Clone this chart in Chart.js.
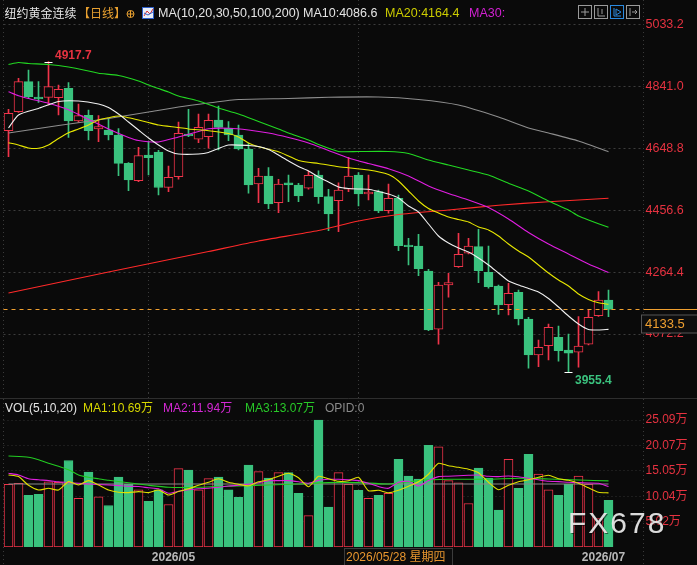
<!DOCTYPE html>
<html><head><meta charset="utf-8">
<script src="https://cdn.jsdelivr.net/npm/chart.js@4.4.1/dist/chart.umd.min.js"></script>
<style>
html,body{margin:0;padding:0;background:#0a0a0a;overflow:hidden}
#wrap{position:relative;width:697px;height:565px;background:#0a0a0a}
#pc{position:absolute;left:0;top:0}
#vc{position:absolute;left:0;top:393px}
</style></head><body>
<div id="wrap">
<canvas id="pc" width="697" height="393"></canvas>
<canvas id="vc" width="697" height="172"></canvas>
</div>
<script>
// ---------------- DATA ----------------
const dates = ['2026/04/09','2026/04/10','2026/04/13','2026/04/14','2026/04/15','2026/04/16','2026/04/17','2026/04/20','2026/04/21','2026/04/22','2026/04/23','2026/04/24','2026/04/27','2026/04/28','2026/04/29','2026/04/30',
'2026/05/01','2026/05/04','2026/05/05','2026/05/06','2026/05/07','2026/05/08','2026/05/11','2026/05/12','2026/05/13','2026/05/14','2026/05/15','2026/05/18','2026/05/19','2026/05/20','2026/05/21','2026/05/22','2026/05/25','2026/05/26','2026/05/27','2026/05/28','2026/05/29',
'2026/06/01','2026/06/02','2026/06/03','2026/06/04','2026/06/05','2026/06/08','2026/06/09','2026/06/10','2026/06/11','2026/06/12','2026/06/15','2026/06/16','2026/06/17','2026/06/18','2026/06/19','2026/06/22','2026/06/23','2026/06/24','2026/06/25','2026/06/26','2026/06/29','2026/06/30',
'2026/07/01','2026/07/02'];
const emptySlots = ['', '', ''];

const opens  = [4703.1,4762.0,4855.1,4807.6,4806.7,4805.5,4834.6,4733.2,4750.9,4708.3,4705.3,4689.7,4601.9,4547.9,4627.7,4637.0,4527.4,4560.3,4692.8,4676.4,4684.5,4736.3,4711.4,4689.7,4646.3,4537.7,4562.5,4479.7,4541.7,4534.6,4524.4,4565.6,4498.3,4485.9,4521.3,4565.6,4506.7,4513.8,4454.9,4493.3,4348.4,4345.3,4267.7,4086.9,4224.3,4281.1,4322.7,4343.2,4263.8,4221.3,4163.2,4201.7,4118.8,4007.1,4036.0,4062.1,4022.6,4015.5,4040.4,4129.2,4177.8];
const highs  = [4769.5,4865.7,4891.4,4855.7,4917.7,4844.9,4852.0,4785.9,4767.3,4749.6,4741.5,4709.3,4604.0,4651.6,4669.0,4642.0,4593.5,4730.1,4769.5,4754.9,4754.9,4779.7,4731.0,4720.8,4664.0,4586.4,4588.3,4552.3,4565.6,4539.9,4578.9,4578.9,4521.3,4541.7,4620.5,4572.8,4565.6,4519.0,4537.7,4503.6,4369.2,4381.6,4273.0,4232.7,4260.6,4384.7,4369.2,4397.1,4345.3,4224.3,4229.6,4208.8,4124.1,4053.7,4103.3,4097.1,4072.3,4126.0,4148.9,4203.5,4208.8];
const lows   = [4622.4,4760.0,4803.6,4790.6,4782.8,4751.8,4682.6,4729.1,4674.2,4669.0,4674.2,4563.4,4516.9,4544.8,4565.6,4503.6,4513.8,4552.3,4684.5,4665.8,4648.5,4643.2,4672.1,4643.2,4508.9,4479.7,4461.1,4448.6,4482.8,4482.8,4521.3,4477.8,4392.8,4389.7,4513.8,4469.4,4488.0,4448.6,4446.8,4330.7,4286.4,4253.2,4082.5,4040.4,4186.2,4279.2,4320.5,4231.5,4214.1,4133.4,4131.2,4100.2,3965.9,3970.8,3991.6,3988.0,3955.4,3969.0,4038.2,4127.0,4126.0];
const closes = [4757.1,4855.1,4808.6,4801.4,4839.6,4831.5,4733.2,4749.6,4703.1,4715.5,4689.7,4601.9,4550.1,4625.5,4619.3,4526.8,4558.5,4695.0,4686.6,4713.6,4735.4,4713.6,4689.7,4646.3,4534.6,4562.5,4475.6,4537.7,4534.6,4500.5,4564.7,4498.3,4444.6,4519.0,4562.5,4506.7,4512.9,4453.9,4493.3,4346.3,4343.2,4274.9,4084.7,4224.3,4231.5,4319.6,4345.3,4268.7,4219.1,4162.3,4198.6,4118.8,4007.1,4031.0,4093.1,4020.5,4012.4,4035.0,4124.1,4177.8,4148.9];
// volume in 万 (10k lots)
const volumes = [12.4,12.6,10.2,10.4,12.9,12.8,17.1,9.6,14.8,9.9,8.2,13.8,12.4,11.3,9.0,11.3,8.4,15.5,15.2,11.3,13.5,13.8,11.3,9.8,16.2,14.9,13.6,14.7,14.7,10.6,6.2,25.09,7.9,14.7,12.4,11.2,9.6,10.2,10.6,17.3,14.0,13.4,20.1,19.8,13.1,12.7,8.6,15.6,13.6,7.3,17.3,11.6,18.3,14.4,11.3,10.2,12.4,14.0,12.4,5.6,9.2];

// moving-average readings: [day index, value]
const ma10Pts = [[0,4711.5],[1,4752.0],[3,4772.0],[5,4793.7],[7,4795.2],[9,4785.9],[10,4775.1],[11,4754.9],[12,4730.1],[13,4705.2],[14,4680.4],[15,4658.7],[16,4640.1],[17,4630.8],[19,4630.8],[20,4635.5],[21,4647.8],[22,4658.7],[24,4657.2],[25,4654.1],[26,4644.8],[27,4627.7],[28,4609.1],[29,4592.0],[30,4578.0],[31,4559.4],[32,4543.9],[33,4528.4],[34,4523.7],[35,4522.2],[36,4521.3],[37,4514.4],[38,4506.7],[39,4494.3],[40,4469.4],[41,4450.8],[42,4413.6],[43,4376.4],[44,4354.6],[45,4339.1],[46,4326.7],[47,4308.1],[48,4286.4],[49,4261.6],[50,4236.7],[51,4224.3],[52,4213.5],[53,4202.6],[54,4182.4],[55,4156.0],[56,4128.2],[57,4103.3],[58,4086.2],[59,4084.7],[60,4086.6]];
const ma20Pts = [[0,4665.8],[1,4658.7],[2,4649.4],[3,4648.5],[4,4658.7],[5,4678.9],[6,4696.9],[7,4708.4],[8,4720.8],[9,4736.3],[10,4743.4],[11,4748.7],[12,4743.4],[13,4736.3],[14,4728.5],[15,4720.8],[17,4713.0],[18,4708.4],[20,4703.1],[22,4694.4],[23,4683.5],[24,4664.9],[25,4653.4],[27,4637.9],[28,4624.6],[29,4610.6],[30,4605.0],[31,4601.3],[33,4591.4],[36,4581.1],[38,4567.2],[39,4547.0],[40,4516.0],[41,4485.0],[42,4461.7],[43,4447.7],[44,4435.3],[45,4427.6],[46,4419.8],[47,4404.3],[48,4395.0],[49,4376.4],[50,4351.5],[51,4329.8],[52,4311.2],[53,4286.4],[54,4261.6],[55,4239.8],[56,4221.3],[57,4196.4],[58,4179.4],[59,4169.4],[60,4164.4]];
const ma30Pts = [[0,4824.1],[1,4811.7],[2,4803.0],[4,4788.1],[6,4767.9],[8,4738.1],[10,4708.4],[12,4682.0],[13,4672.7],[15,4668.0],[17,4683.5],[19,4700.6],[20,4709.3],[22,4710.5],[24,4705.2],[26,4695.9],[28,4682.0],[30,4664.9],[32,4641.6],[34,4618.4],[36,4601.3],[38,4585.2],[40,4562.5],[42,4531.5],[44,4508.2],[46,4488.1],[48,4464.8],[50,4429.1],[52,4387.2],[54,4351.5],[56,4320.5],[58,4289.5],[60,4263.1]];
const ma50Pts = [[0,4908.5],[1,4914.7],[2,4911.6],[4,4908.5],[6,4900.7],[8,4888.3],[9,4881.2],[11,4874.4],[13,4857.3],[14,4844.9],[15,4834.0],[16,4823.1],[17,4810.7],[19,4795.2],[21,4773.5],[23,4754.9],[25,4731.6],[27,4708.4],[28,4695.9],[30,4674.2],[31,4660.3],[33,4638.5],[35,4638.5],[38,4638.5],[40,4632.3],[42,4612.2],[44,4596.6],[46,4581.1],[48,4565.6],[50,4539.9],[52,4516.0],[54,4485.0],[56,4457.0],[57,4438.4],[58,4426.0],[60,4403.4]];
const ma100Pts = [[0,4695.9],[5,4719.2],[10,4740.9],[14,4761.1],[17,4776.6],[20,4789.0],[23,4799.9],[28,4803.0],[32,4806.7],[37,4807.6],[41,4799.9],[45,4782.8],[49,4745.6],[52,4711.5],[54,4695.9],[57,4671.1],[60,4638.0]];
const ma200Pts = [[0,4199.5],[10,4264.7],[20,4328.3],[25,4360.8],[31,4393.4],[35,4422.9],[39,4443.1],[44,4457.0],[49,4471.6],[54,4482.8],[60,4493.3]];

const volMa5 = [14.23,13.91,12.19,11.26,11.6,11.26,12.92,12.25,13.12,12.25,11.26,10.81,10.75,10.95,10.75,11.26,10.28,10.95,11.5,12.19,12.79,13.48,12.79,12.39,12.09,12.89,13.28,13.97,14.57,13.68,11.9,13.97,13.48,12.98,13.08,13.77,11.11,11.21,10.71,11.21,12.0,12.89,14.37,16.54,16.05,15.75,15.36,14.66,12.79,11.3,12.19,12.89,13.28,13.77,14.17,13.48,13.18,12.59,11.7,10.81,10.69];
const volMa10 = [14.57,14.23,13.48,13.28,13.12,12.89,12.73,12.59,12.45,12.35,12.25,12.13,12.0,11.94,11.7,11.5,10.61,11.0,11.3,11.5,11.6,11.8,12.06,12.19,12.39,12.69,13.08,13.12,13.12,12.89,12.59,13.18,13.38,13.38,13.28,13.12,12.59,11.94,11.6,12.79,12.98,12.06,13.12,13.91,13.97,14.07,14.17,14.23,13.97,13.91,14.03,13.87,13.58,13.28,12.98,12.92,12.79,12.73,12.65,12.59,11.94];
const volMa20Pts = [[0,17.98],[2,17.73],[3,17.23],[4,16.54],[5,15.95],[6,15.26],[7,14.23],[8,13.77],[9,13.48],[10,13.18],[12,12.69],[14,12.19],[16,11.8],[19,11.8],[22,12.0],[26,12.25],[29,12.45],[32,12.73],[35,12.73],[38,12.45],[41,13.12],[44,13.38],[48,13.38],[51,13.58],[54,13.44],[57,13.24],[60,13.07]];
const volRefLevel = 12.45;

const priceTicks = [5033.2, 4841.0, 4648.8, 4456.6, 4264.4, 4072.2];
const volTicks = [25.09, 20.07, 15.05, 10.04, 5.02];
const crosshairIdx = 35;
const quotePrice = 4133.5;

// ---------------- STYLE ----------------
const BG = '#0a0a0a', RED = '#f0344a', GREEN = '#3ac27e', AXRED = '#e63240', ORANGE = '#f0a030';
const FONT = '"Liberation Sans", Arial, "Noto Sans CJK SC", sans-serif';
const CJK = '"Noto Sans CJK SC", "Liberation Sans", sans-serif';
Chart.defaults.font.family = FONT;
const labels = dates.concat(emptySlots);
const isUp = closes.map((c, i) => c >= opens[i]);
const pts = arr => arr.map(([i, v]) => ({x: dates[i], y: v}));
const gridIdx = [14, crosshairIdx];
const xGridColor = ctx => gridIdx.includes(ctx.index) ? '#3a3a3a' : 'rgba(0,0,0,0)';
const line = (label, data, color, order) => ({type: 'line', label, data, borderColor: color, borderWidth: 1.1, pointRadius: 0, tension: 0.2, spanGaps: true, order: order || 1});

// ---------------- PRICE CHART ----------------
const pricePlugin = {
  id: 'priceDecor',
  beforeDraw(chart) { const c = chart.ctx; c.save(); c.fillStyle = BG; c.fillRect(0, 0, chart.width, chart.height); c.restore(); },
  afterDraw(chart) {
    const c = chart.ctx, xs = chart.scales.x, ys = chart.scales.y, ca = chart.chartArea;
    c.save();
    // borders
    c.strokeStyle = '#3a3a3a'; c.lineWidth = 1; c.setLineDash([1, 3]);
    c.beginPath(); c.moveTo(ca.right, 0); c.lineTo(ca.right, chart.height); c.stroke();
    c.beginPath(); c.moveTo(3.5, 0); c.lineTo(3.5, chart.height); c.stroke();
    // last price line
    const ly = Math.round(ys.getPixelForValue(closes[closes.length - 1])) + 0.5;
    c.strokeStyle = ORANGE; c.setLineDash([4, 4]);
    c.beginPath(); c.moveTo(ca.left, ly); c.lineTo(ca.right, ly); c.stroke();
    c.setLineDash([]);
    c.beginPath(); c.moveTo(ca.right, ly); c.lineTo(chart.width, ly); c.stroke();
    c.fillStyle = '#0e0e0e'; c.fillRect(641, ly + 5.5, 56, 18);
    c.strokeStyle = '#555'; c.strokeRect(641.5, ly + 5.5, 56, 18);
    c.fillStyle = ORANGE; c.font = '13px ' + FONT; c.textBaseline = 'middle'; c.textAlign = 'left';
    c.fillText(quotePrice.toFixed(1), 645, ly + 15);
    // high / low markers
    const hi = Math.max(...highs), lo = Math.min(...lows);
    const hiI = highs.indexOf(hi), loI = lows.indexOf(lo);
    const hx = xs.getPixelForValue(hiI), hy = Math.round(ys.getPixelForValue(hi)) + 0.5;
    const lx = xs.getPixelForValue(loI), lyy = Math.round(ys.getPixelForValue(lo)) + 0.5;
    c.strokeStyle = '#ffffff';
    c.beginPath(); c.moveTo(hx - 4, hy); c.lineTo(hx + 4, hy); c.stroke();
    c.beginPath(); c.moveTo(lx - 4, lyy); c.lineTo(lx + 4, lyy); c.stroke();
    c.font = 'bold 12px ' + FONT;
    c.fillStyle = AXRED; c.fillText(hi.toFixed(1), hx + 6.5, hy - 6.5);
    c.fillStyle = GREEN; c.fillText(lo.toFixed(1), lx + 6.5, lyy + 8);
    // header legend
    const y0 = 13.5;
    c.font = '12px ' + CJK; c.fillStyle = '#e4e4e4'; c.fillText('纽约黄金连续', 4.5, y0);
    c.fillStyle = '#e8a030'; c.fillText('【日线】', 78, y0);
    c.strokeStyle = '#e8a030'; c.lineWidth = 1;
    c.beginPath(); c.arc(130.5, y0 + 0.5, 3.5, 0, Math.PI * 2); c.stroke();
    c.beginPath(); c.moveTo(127, y0 + 0.5); c.lineTo(134, y0 + 0.5); c.moveTo(130.5, y0 - 3); c.lineTo(130.5, y0 + 4); c.stroke();
    // MA icon
    c.fillStyle = '#e8eef8'; c.fillRect(142, 7, 12, 12);
    c.strokeStyle = '#2f5fc8'; c.strokeRect(142.5, 7.5, 11, 11);
    c.strokeStyle = '#e03030'; c.beginPath(); c.moveTo(144, 16); c.lineTo(147, 11); c.lineTo(150, 14); c.lineTo(153, 9); c.stroke();
    c.strokeStyle = '#2f5fc8'; c.beginPath(); c.moveTo(144, 13); c.lineTo(148, 15); c.lineTo(153, 12); c.stroke();
    c.font = '12.5px ' + FONT;
    c.fillStyle = '#e4e4e4'; c.fillText('MA(10,20,30,50,100,200)', 158, y0);
    c.fillText('MA10:' + ma10Pts[ma10Pts.length - 1][1].toFixed(1), 303, y0);
    c.fillStyle = '#cccc00'; c.fillText('MA20:' + ma20Pts[ma20Pts.length - 1][1].toFixed(1), 385, y0);
    c.fillStyle = '#d020d0'; c.fillText('MA30:', 469, y0);
    // toolbar icons
    const ix = [578, 594, 610, 626];
    ix.forEach((x, k) => {
      c.strokeStyle = k === 2 ? '#2a8ae0' : '#9a9a9a';
      c.strokeRect(x + 0.5, 5.5, 13, 13);
      c.beginPath();
      if (k === 0) { c.moveTo(x + 7, 8); c.lineTo(x + 7, 16); c.moveTo(x + 3, 12); c.lineTo(x + 11, 12); }
      if (k === 1) { c.moveTo(x + 4, 8); c.lineTo(x + 4, 16); c.lineTo(x + 11, 16); c.moveTo(x + 8, 9); c.lineTo(x + 8, 14); }
      if (k === 2) { c.moveTo(x + 4, 8); c.lineTo(x + 4, 16); c.lineTo(x + 11, 16); c.moveTo(x + 6, 9); c.lineTo(x + 11, 12); c.lineTo(x + 6, 15); c.closePath(); }
      if (k === 3) { c.moveTo(x + 4, 8); c.lineTo(x + 4, 16); c.moveTo(x + 6, 12); c.lineTo(x + 11, 12); c.moveTo(x + 9, 10); c.lineTo(x + 11, 12); c.lineTo(x + 9, 14); }
      c.stroke();
    });
    c.restore();
  }
};

new Chart(document.getElementById('pc'), {
  type: 'bar',
  data: {
    labels,
    datasets: [
      line('MA10', pts(ma10Pts), '#f0f0f0'),
      line('MA20', pts(ma20Pts), '#e8e800'),
      line('MA30', pts(ma30Pts), '#e01ee0'),
      line('MA50', pts(ma50Pts), '#22d822'),
      line('MA100', pts(ma100Pts), '#8e8e8e'),
      line('MA200', pts(ma200Pts), '#ff2a2a'),
      {label: 'body', data: dates.map((d, i) => [opens[i], closes[i]]),
        backgroundColor: isUp.map(u => u ? BG : GREEN), borderColor: isUp.map(u => u ? RED : GREEN),
        borderWidth: 1, borderSkipped: false, barThickness: 9, grouped: false, order: 5},
      {label: 'wick', data: dates.map((d, i) => [lows[i], highs[i]]),
        backgroundColor: isUp.map(u => u ? RED : GREEN), borderWidth: 0, barThickness: 1, grouped: false, order: 6}
    ]
  },
  options: {
    responsive: false, animation: false, events: [],
    layout: {padding: {left: 3.5, right: 0, top: 0, bottom: 0}},
    plugins: {legend: {display: false}, tooltip: {enabled: false}},
    scales: {
      x: {type: 'category', offset: true,
        grid: {offset: false, color: xGridColor, drawTicks: false},
        border: {display: false, dash: [1, 3]},
        ticks: {display: false},
        afterFit(s) { s.height = 0; s.paddingLeft = 0; s.paddingRight = 0; }},
      y: {position: 'right', min: 3889.2, max: 5108.6,
        grid: {color: '#3c3c3c', drawTicks: false},
        border: {display: false, dash: [2, 3]},
        ticks: {color: AXRED, font: {size: 12.5}, padding: 2, callback: v => Number(v).toFixed(1)},
        afterBuildTicks(s) { s.ticks = priceTicks.map(v => ({value: v})); },
        afterFit(s) { s.width = 53.5; s.paddingTop = 0; s.paddingBottom = 0; }}
    }
  },
  plugins: [pricePlugin]
});

// ---------------- VOLUME CHART ----------------
const volPlugin = {
  id: 'volDecor',
  beforeDraw(chart) { const c = chart.ctx; c.save(); c.fillStyle = BG; c.fillRect(0, 0, chart.width, chart.height); c.restore(); },
  afterDraw(chart) {
    const c = chart.ctx, xs = chart.scales.x, ca = chart.chartArea;
    c.save();
    c.strokeStyle = '#2e2e2e'; c.lineWidth = 1;
    c.beginPath(); c.moveTo(0, 5.5); c.lineTo(chart.width, 5.5); c.stroke();
    c.setLineDash([1, 3]); c.strokeStyle = '#3a3a3a';
    c.beginPath(); c.moveTo(ca.right, 6); c.lineTo(ca.right, chart.height); c.stroke();
    c.beginPath(); c.moveTo(3.5, 6); c.lineTo(3.5, chart.height); c.stroke();
    c.setLineDash([]);
    // legend
    const y0 = 15.5; c.textBaseline = 'middle'; c.textAlign = 'left';
    c.font = '12px ' + FONT;
    c.fillStyle = '#e4e4e4'; c.fillText('VOL(5,10,20)', 5, y0);
    c.fillStyle = '#d8d800'; c.fillText('MA1:' + volMa5[volMa5.length - 1].toFixed(2) + '万', 83, y0);
    c.fillStyle = '#d428d4'; c.fillText('MA2:' + volMa10[volMa10.length - 1].toFixed(2) + '万', 163, y0);
    c.fillStyle = '#28c828'; c.fillText('MA3:' + volMa20Pts[volMa20Pts.length - 1][1].toFixed(2) + '万', 245, y0);
    c.fillStyle = '#8a8a8a'; c.fillText('OPID:0', 325, y0);
    // crosshair date box
    const px = xs.getPixelForValue(crosshairIdx);
    const bx = Math.round(px) - 15;
    c.fillStyle = '#0c0c0c'; c.fillRect(bx, ca.bottom + 1, 109, chart.height - ca.bottom);
    c.strokeStyle = '#3c3c3c'; c.strokeRect(bx + 0.5, ca.bottom + 1.5, 108, chart.height - ca.bottom);
    const d = new Date(dates[crosshairIdx].replace(/\//g, '-') + 'T00:00:00');
    const wk = ['星期日','星期一','星期二','星期三','星期四','星期五','星期六'][d.getDay()];
    c.fillStyle = '#e8962e'; c.font = '12px ' + FONT;
    c.fillText(dates[crosshairIdx] + ' ' + wk, bx + 2, ca.bottom + 10.5);
    // watermark
    c.font = '30px ' + FONT; c.letterSpacing = '2px';
    c.fillStyle = 'rgba(0,0,0,0.5)'; c.fillText('FX678', 569, 133);
    c.fillStyle = 'rgba(236,236,236,0.93)'; c.fillText('FX678', 568, 132);
    c.restore();
  }
};

new Chart(document.getElementById('vc'), {
  type: 'bar',
  data: {
    labels,
    datasets: [
      line('MA1', volMa5.map((v, i) => ({x: dates[i], y: v})), '#e0e000'),
      line('MA2', volMa10.map((v, i) => ({x: dates[i], y: v})), '#e020e0'),
      line('MA3', pts(volMa20Pts), '#22cc22'),
      line('ref', [{x: dates[0], y: volRefLevel}, {x: dates[dates.length - 1], y: volRefLevel}], '#8a8a8a', 2),
      {label: 'VOL', data: volumes,
        backgroundColor: isUp.map(u => u ? BG : GREEN), borderColor: isUp.map(u => u ? RED : GREEN),
        borderWidth: 1, borderSkipped: false, barThickness: 9, grouped: false, order: 5}
    ]
  },
  options: {
    responsive: false, animation: false, events: [],
    layout: {padding: {left: 3.5, right: 0, top: 0, bottom: 0}},
    plugins: {legend: {display: false}, tooltip: {enabled: false}},
    scales: {
      x: {type: 'category', offset: true,
        grid: {offset: false, color: xGridColor, drawTicks: false},
        border: {display: false, dash: [1, 3]},
        ticks: {color: '#b8b8b8', font: {size: 12, weight: 'bold'}, autoSkip: false, maxRotation: 0, padding: 3, labelOffset: 5,
          callback: (v, i) => (i > 0 && i < dates.length && dates[i].slice(0, 7) !== dates[i - 1].slice(0, 7)) ? dates[i].slice(0, 7) : ''},
        afterFit(s) { s.height = 18; s.paddingLeft = 0; s.paddingRight = 0; }},
      y: {position: 'right', min: 0, max: 30.43,
        grid: {color: '#303030', drawTicks: false},
        border: {display: false, dash: [1, 3]},
        ticks: {color: AXRED, font: {size: 12}, padding: 2, callback: v => Number(v).toFixed(2) + '万'},
        afterBuildTicks(s) { s.ticks = volTicks.map(v => ({value: v})); },
        afterFit(s) { s.width = 53.5; s.paddingTop = 0; s.paddingBottom = 0; }}
    }
  },
  plugins: [volPlugin]
});
</script>
</body></html>
